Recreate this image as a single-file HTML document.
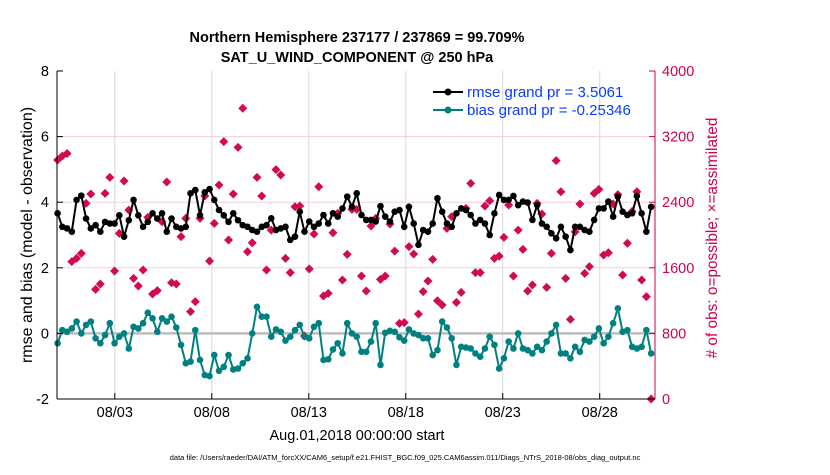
<!DOCTYPE html>
<html><head><meta charset="utf-8"><style>
body{margin:0;background:#fff;}
svg text{font-family:"Liberation Sans",sans-serif;}
</style></head><body>
<svg id="chart" width="830" height="470" viewBox="0 0 830 470" xmlns="http://www.w3.org/2000/svg">
<rect width="830" height="470" fill="#fff"/>
<g id="grid"></g>
<g id="obs"></g>
<g id="series"></g>
<g id="axes"></g>
<text x="357" y="42" text-anchor="middle" font-size="14.5" font-weight="bold">Northern Hemisphere 237177 / 237869 = 99.709%</text>
<text x="357" y="62" text-anchor="middle" font-size="14.5" font-weight="bold">SAT_U_WIND_COMPONENT @ 250 hPa</text>
<text transform="translate(32,235) rotate(-90)" text-anchor="middle" font-size="16">rmse and bias (model - observation)</text>
<text transform="translate(717,238) rotate(-90)" text-anchor="middle" font-size="15.4" fill="#cc0055"># of obs: o=possible; ×=assimilated</text>
<text x="357" y="440" text-anchor="middle" font-size="14.5">Aug.01,2018 00:00:00 start</text>
<text x="405" y="460" text-anchor="middle" font-size="7.5">data file: /Users/raeder/DAI/ATM_forcXX/CAM6_setup/f.e21.FHIST_BGC.f09_025.CAM6assim.011/Diags_NTrS_2018-08/obs_diag_output.nc</text>
<g>
<line x1="433" y1="92" x2="463" y2="92" stroke="#000" stroke-width="2"/><circle cx="448" cy="92" r="3.5" fill="#000"/>
<text x="467" y="97" font-size="15" fill="#0a3cff">rmse grand pr = 3.5061</text>
<line x1="433" y1="110" x2="463" y2="110" stroke="#008080" stroke-width="2"/><circle cx="448" cy="110" r="3.5" fill="#008080"/>
<text x="467" y="115" font-size="15" fill="#0a3cff">bias grand pr = -0.25346</text>
</g>
</svg>
<script>
const rmse=[3.66,3.25,3.2,3.1,4.07,4.2,3.5,3.2,3.3,3.1,3.4,3.35,3.35,3.6,2.95,3.45,4.07,3.6,3.25,3.4,3.66,3.5,3.66,3.1,3.5,3.25,3.2,3.25,4.27,4.37,3.6,4.3,4.4,4.07,3.76,3.6,3.4,3.66,3.45,3.3,3.25,3.15,3.1,3.25,
3.30,3.51,3.15,3.2,3.25,2.85,2.95,3.71,3.1,3.41,3.25,3.35,3.61,3.35,3.66,3.56,3.81,4.17,3.86,4.27,3.61,3.46,3.46,3.41,3.88,3.56,3.41,3.71,3.76,3.25,3.86,3.35,2.7,3.15,3.1,3.35,4.12,3.71,3.35,3.25,3.66,3.81,
3.76,3.61,3.35,3.46,3.35,3.0,3.66,4.22,4.07,4.07,4.19,3.91,4.02,3.99,3.46,3.91,3.35,3.25,3.05,2.9,3.25,2.95,2.54,3.25,3.25,3.15,3.1,3.46,3.81,3.81,4.02,3.56,4.17,3.71,3.61,3.66,4.19,3.66,3.1,3.86];
const bias=[-0.3,0.1,0.05,0.15,0.36,0,0.26,0.36,-0.15,-0.3,-0.05,0.31,-0.3,-0.1,0,-0.46,0.2,0.15,0.31,0.63,0.46,0.05,0.46,0.36,0.51,0.18,-0.35,-0.91,-0.86,0.1,-0.81,-1.27,-1.3,-0.66,-1.14,-1.02,-0.66,-1.1,-1.07,-0.91,-0.76,0,0.81,0.51,
0.51,-0.1,0.12,0.05,-0.22,-0.1,0.1,0.26,-0.1,-0.15,0.2,0.31,-0.81,-0.79,-0.49,-0.3,-0.61,0.31,0,-0.1,-0.56,-0.56,-0.25,0.31,-0.96,0.02,0.08,0.05,-0.12,-0.22,0.12,0,-0.05,-0.15,-0.15,-0.66,-0.51,0.36,0.18,-0.15,-0.96,-0.41,
-0.43,-0.46,-0.61,-0.71,-0.46,-0.1,-0.35,-1.07,-0.76,-0.25,-0.46,0,-0.46,-0.51,-0.61,-0.41,-0.51,-0.25,0,0.26,-0.61,-0.61,-0.76,-0.41,-0.56,-0.2,-0.25,-0.1,0.15,-0.3,-0.1,0.31,0.76,0.05,0.1,-0.41,-0.46,-0.41,0.1,-0.61];
const nobs=[2915,2963,2994,1675,1715,1776,2386,2500,1337,1402,2508,2703,1561,2020,2659,2304,1471,1378,1573,2215,1280,1321,2162,2646,1418,1402,1980,2203,1065,1187,2203,2476,1683,2142,2610,3138,1939,2500,3069,3545,1796,1906,2703,2476,1573,2060,
2797,2731,1715,1541,2345,2353,769,1585,2012,2589,1256,1288,2028,2264,1451,1764,2313,2313,1500,1317,2110,2203,1459,1500,2134,1804,922,931,1858,1768,1036,1309,1439,1703,1198,1146,2081,2224,1179,1301,2325,
2630,1541,1541,2353,2418,1715,1743,1971,2366,1500,2060,1825,1317,1390,2386,2256,1362,1776,2907,2528,1471,971,2040,2378,1532,1614,2508,2557,1756,1784,2378,2492,1512,1899,2288,2528,1451,1248,0];
const xTickLabels=["08/03","08/08","08/13","08/18","08/23","08/28"];
const xTickDays=[2,7,12,17,22,27];
const yLeftTicks=[8,6,4,2,0,-2];
const yRightTicks=[4000,3200,2400,1600,800,0];

const L=57,R=655,T=71,B=399;
const dayMin=-0.98, dayMax=29.85;
const X=d=>L+(d-dayMin)/(dayMax-dayMin)*(R-L);
const YL=v=>B-(v+2)/10*(B-T);
const YR=v=>B-v/4000*(B-T);
const dayOf=i=>-0.95+i*(30.6/125);
const NS="http://www.w3.org/2000/svg";
function mk(tag,attrs,parent){const e=document.createElementNS(NS,tag);for(const k in attrs)e.setAttribute(k,attrs[k]);parent.appendChild(e);return e;}
const grid=document.getElementById('grid'),axes=document.getElementById('axes'),obs=document.getElementById('obs'),ser=document.getElementById('series');
xTickDays.forEach((d,i)=>{
 const g=mk('line',{x1:X(d),x2:X(d),y1:T,y2:B,stroke:'#d8d8d8','stroke-width':1},grid);
 
 
 mk('line',{x1:X(d),x2:X(d),y1:B,y2:B-6,stroke:'#000'},axes);
 const t=mk('text',{x:X(d),y:B+18,'text-anchor':'middle','font-size':14.5},axes);t.textContent=xTickLabels[i];
 
 
});
yRightTicks.forEach(v=>{
 if(v>0&&v<4000){const g=mk('line',{x1:L,x2:R,y1:YR(v),y2:YR(v),stroke:'#f0d0dc','stroke-width':1},grid);
 
 }
 mk('line',{x1:R,x2:R-6,y1:YR(v),y2:YR(v),stroke:'#cc0055'},axes);
 const t=mk('text',{x:R+7,y:YR(v)+5,'font-size':14.5,fill:'#cc0055'},axes);t.textContent=v;
 
 
});
yLeftTicks.forEach(v=>{
 mk('line',{x1:L,x2:L+6,y1:YL(v),y2:YL(v),stroke:'#000'},axes);
 const t=mk('text',{x:L-8,y:YL(v)+5,'text-anchor':'end','font-size':14.5},axes);t.textContent=v;
 
 
});
const zl=mk('line',{x1:L,x2:R,y1:YL(0),y2:YL(0),stroke:'#bdbdbd','stroke-width':2.5},grid);


mk('line',{x1:L,x2:L,y1:T,y2:B,stroke:'#000'},axes);
mk('line',{x1:L,x2:R,y1:B,y2:B,stroke:'#000'},axes);
mk('line',{x1:R,x2:R,y1:T,y2:B,stroke:'#cc0055'},axes);
nobs.forEach((v,i)=>{
 const x=X(dayOf(i)),y=YR(v);
 const p=mk('path',{d:`M${x},${y-4.5}L${x+4.5},${y}L${x},${y+4.5}L${x-4.5},${y}Z`,fill:'#d10a55'},obs);
 
 
});
function drawLine(arr,color,name){
 const pts=arr.map((v,i)=>`${X(dayOf(i)).toFixed(1)},${YL(v).toFixed(1)}`).join(' ');
 const pl=mk('polyline',{points:pts,fill:'none',stroke:color,'stroke-width':2},ser);
 
 
 arr.forEach((v,i)=>{const c=mk('circle',{cx:X(dayOf(i)),cy:YL(v),r:3.3,fill:color},ser);
 
 });
}
drawLine(bias,'#008080','bias');
drawLine(rmse,'#000','rmse');
</script>
</body></html>
